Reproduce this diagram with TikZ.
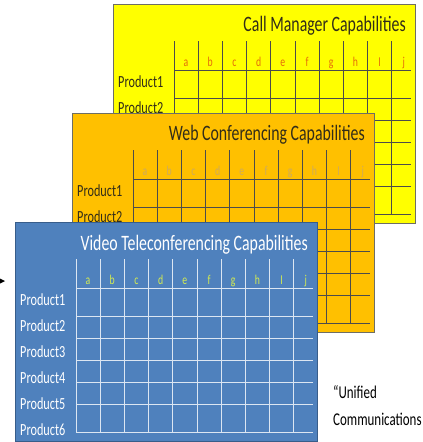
\documentclass[tikz,border=0pt]{standalone}
\usepackage{fontspec}
\setmainfont[FakeStretch=0.72]{Carlito}
\usepackage{xcolor}
\usepackage{tikz}
\usetikzlibrary{arrows, positioning, calc}
\definecolor{callYellow}{RGB}{255, 255, 0}
\definecolor{webOrange}{RGB}{255, 192, 0}
\definecolor{videoBlue}{RGB}{79, 129, 189}
\definecolor{videoEdge}{RGB}{56, 93, 138}
\definecolor{panelEdge}{RGB}{110, 110, 100}
\definecolor{callLetter}{RGB}{228, 108, 10}
\definecolor{webLetter}{RGB}{205, 170, 95}
\definecolor{videoLetter}{RGB}{212, 236, 80}
\definecolor{darkText}{RGB}{50, 45, 25}
\definecolor{videoLine}{RGB}{220, 230, 242}

% grid of one panel: #1 panel, #2 line colour, #3 letter colour, #4 text colour
\newcommand{\capgrid}[4]{
  \begin{scope}[shift={(#1.north west)}]
    \foreach \k in {0,...,9}
      \draw[gridline=#2] ({61+24.2*\k},37) -- ({61+24.2*\k},210);
    \foreach \r in {66,94,116,138,160,182,210}
      \draw[gridline=#2] (61,\r) -- (298,\r);
    \foreach \c [count=\k from 0] in {a,b,c,d,e,f,g,h,I,j}
      \node[collabel, text=#3] (#1-\c) at ({73+24.2*\k},62) {\c};
    \foreach \p in {1,...,6}
      \node[prodlabel, text=#4] (#1-p\p) at (5,{52+26*\p}) {Product\p};
  \end{scope}
}

\begin{document}
\begin{tikzpicture}[
    x=1pt, y=-1pt,
    panel/.style={rectangle, draw=#1, line width=1pt, minimum width=302pt, minimum height=219pt, anchor=north west, inner sep=0pt},
    gridline/.style={draw=#1, line width=0.7pt},
    title/.style={font=\fontsize{22}{24}\selectfont, anchor=base east, inner sep=0pt},
    collabel/.style={font=\fontsize{13.5}{15}\selectfont, anchor=base, inner sep=0pt},
    prodlabel/.style={font=\fontsize{17}{19}\selectfont, anchor=west, inner sep=0pt},
    note/.style={font=\fontsize{18}{20}\selectfont, anchor=base west, inner sep=0pt},
    arrow/.style={->, >=stealth, line width=1.8pt}
]
\useasboundingbox (0,0) rectangle (423,442);
\clip (0,0) rectangle (423,442);

% Call Manager
\node[panel=panelEdge, fill=callYellow] (call) at (113,4) {};
\node[title, text=darkText] (calltitle) at ($(call.north east)+(-10,27)$) {Call Manager Capabilities};
\capgrid{call}{black!70}{callLetter}{darkText}

% Web Conferencing
\node[panel=panelEdge, fill=webOrange] (web) at (72,113) {};
\node[title, text=darkText] (webtitle) at ($(web.north east)+(-10,27)$) {Web Conferencing Capabilities};
\capgrid{web}{black!70}{webLetter}{darkText}

% Video Teleconferencing
\node[panel=videoEdge, fill=videoBlue] (video) at (15,222) {};
\node[title, text=white] (videotitle) at ($(video.north east)+(-10,28)$) {Video Teleconferencing Capabilities};
\capgrid{video}{videoLine}{videoLetter}{white}

% Note
\node[note] (unified) at (333,398) {“Unified};
\node[note] (comms) at (333,425) {Communications};

% Arrow from the left
\coordinate (tail) at (-12,281);
\coordinate (tip) at (5,281);
\draw[arrow] (tail) -- (tip);

\end{tikzpicture}
\end{document}
